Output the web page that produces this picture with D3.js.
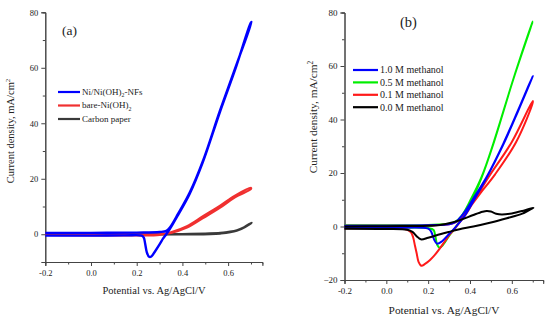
<!DOCTYPE html>
<html><head><meta charset="utf-8">
<script src="https://cdn.jsdelivr.net/npm/d3@7"></script>
<style>
html,body{margin:0;padding:0;background:#fff;}
svg{display:block;}
text{font-family:"Liberation Serif","Times New Roman",serif;fill:#222;}
</style></head>
<body>
<svg id="chart" width="550" height="321"></svg>
<script>
// ---------- data ----------
const xTicks = [-0.2, 0.0, 0.2, 0.4, 0.6];
const xTickLabels = ["-0.2", "0.0", "0.2", "0.4", "0.6"];
const xMinor = [-0.1, 0.1, 0.3, 0.5, 0.7];
const yTicksA = [0, 20, 40, 60, 80];
const yMinorA = [-10, 10, 30, 50, 70];
const yTicksB = [-20, 0, 20, 40, 60, 80];
const yMinorB = [-10, 10, 30, 50, 70];

const seriesNamesA = ["Ni/Ni(OH)2-NFs", "bare-Ni(OH)2", "Carbon paper"];
const seriesNamesB = ["1.0 M methanol", "0.5 M methanol", "0.1 M methanol", "0.0 M methanol"];

// Panel (a): [potential V, current density mA/cm2], forward then reverse scan
const aNiNFs = [[-0.2,0.5],[0.0,0.5],[0.2,0.6],[0.3,0.8],[0.33,1.2],[0.346,2.5],[0.382,7.5],[0.433,15.2],[0.491,26.7],[0.565,44.7],[0.638,61.5],[0.703,76.5],
  [0.698,76],[0.636,60.6],[0.563,43.8],[0.489,25.9],[0.431,14.4],[0.38,6.8],[0.346,2],[0.331,0.2],[0.315,-1.6],[0.302,-3.4],[0.28,-6.2],[0.264,-8.0],[0.254,-8.1],[0.244,-6.4],[0.237,-3.4],[0.231,-1.2],[0.222,-0.5],[0.15,-0.4],[0.0,-0.5],[-0.2,-0.5]];
const aBareNi = [[-0.2,0.2],[0.2,0.0],[0.3,0.0],[0.35,0.5],[0.42,2.4],[0.49,5.8],[0.565,9.6],[0.63,13.3],[0.7,16.3],
  [0.7,16.7],[0.63,13.9],[0.565,10.3],[0.49,6.5],[0.42,2.9],[0.35,0.7],[0.3,-0.2],[0.2,-0.4],[-0.2,-0.2]];
const aCarbon = [[-0.2,0.0],[0.3,0.0],[0.4,0.1],[0.5,0.3],[0.565,0.5],[0.6,0.9],[0.638,1.5],[0.67,2.6],[0.703,4.2],
  [0.7,3.9],[0.638,1.2],[0.565,0.2],[0.4,-0.1],[-0.2,-0.2]];

// Panel (b)
const b10M = [[-0.2,0.3],[0.2,0.5],[0.3,0.8],[0.33,1.6],[0.37,5],[0.42,11],[0.48,18.6],[0.56,31.1],[0.63,43.5],[0.7,56.3],
  [0.698,55.8],[0.628,42.8],[0.558,30.4],[0.478,18],[0.42,10],[0.37,3.5],[0.33,-0.3],[0.3,-2.8],[0.265,-5.6],[0.242,-6.4],[0.228,-4.8],[0.215,-2],[0.2,-0.8],[0.0,-0.6],[-0.2,-0.6]];
const b05M = [[-0.2,0.5],[0.1,0.5],[0.2,0.6],[0.3,1.0],[0.33,1.8],[0.36,4],[0.4,9.5],[0.456,18.6],[0.512,31.1],[0.611,56],[0.7,76.6],
  [0.698,76.2],[0.609,55.5],[0.51,30.5],[0.454,18],[0.4,8.5],[0.35,2],[0.33,-0.5],[0.3,-3.5],[0.272,-6.8],[0.255,-7.9],[0.243,-6.8],[0.234,-3.5],[0.226,-1.3],[0.2,-0.6],[0.0,-0.6],[-0.2,-0.6]];
const b01M = [[-0.2,0.3],[0.2,0.4],[0.3,0.8],[0.33,1.5],[0.37,4.3],[0.449,12.4],[0.52,19.5],[0.62,31.5],[0.7,46.3],
  [0.7,46.9],[0.6,31.6],[0.49,18.6],[0.43,11],[0.38,4.5],[0.34,0.5],[0.32,-1.5],[0.305,-2.8],[0.28,-5.5],[0.257,-8.1],[0.23,-10.8],[0.209,-12.5],[0.185,-14],[0.168,-14.7],[0.154,-13.2],[0.145,-10],[0.137,-7.2],[0.128,-4],[0.118,-2.2],[0.1,-1.2],[0.05,-0.8],[-0.2,-0.7]];
const b00M = [[-0.2,0.0],[0.0,0.1],[0.1,0.2],[0.2,0.3],[0.257,0.6],[0.3,1.2],[0.353,2.4],[0.416,4.3],[0.46,5.5],[0.48,5.8],[0.5,5.6],[0.525,4.8],[0.552,4.5],[0.6,4.9],[0.65,5.8],[0.703,7.0],
  [0.7,6.9],[0.65,4.8],[0.576,3.1],[0.5,1.5],[0.416,0.0],[0.35,-1.0],[0.3,-2.0],[0.257,-2.9],[0.2,-4.2],[0.165,-4.8],[0.145,-3.6],[0.125,-2.0],[0.1,-1.2],[0.0,-0.9],[-0.2,-0.8]];

// ---------- drawing ----------
const svg = d3.select("#chart");

function panel(opt) {
  const g = svg.append("g");
  const x = d3.scaleLinear().domain([-0.2, 0.75]).range([opt.x0, opt.x1]);
  const y = d3.scaleLinear().domain(opt.yDomain).range([opt.y0, opt.y1]);

  // axes
  const xAxis = d3.axisBottom(x).tickValues(xTicks).tickSize(4).tickPadding(4)
    .tickFormat((d, i) => xTickLabels[i]);
  const xMin = d3.axisBottom(x).tickValues(xMinor).tickSize(2.5).tickFormat("");
  g.append("g").attr("transform", `translate(0,${opt.y0})`).call(xAxis);
  g.append("g").attr("transform", `translate(0,${opt.y0})`).call(xMin);
  const yAxis = d3.axisLeft(y).tickValues(opt.yTicks).tickSize(4).tickPadding(3)
    .tickFormat(d3.format("d"));
  const yMin = d3.axisLeft(y).tickValues(opt.yMinor).tickSize(2.5).tickFormat("");
  g.append("g").attr("transform", `translate(${opt.x0},0)`).call(yAxis);
  g.append("g").attr("transform", `translate(${opt.x0},0)`).call(yMin);
  g.selectAll(".domain").attr("stroke", "#444");
  g.selectAll(".tick line").attr("stroke", "#444");
  g.selectAll(".tick text").style("font-family", "Liberation Serif").style("font-size", opt.tickFont + "px").attr("fill", "#222");

  // curves
  const line = d3.line().x(d => x(d[0])).y(d => y(d[1])).curve(d3.curveCatmullRom.alpha(0.5));
  opt.series.forEach(s => {
    g.append("path").attr("d", line(s.data)).attr("fill", "none")
      .attr("stroke", s.color).attr("stroke-width", s.w).attr("stroke-linejoin", "round");
  });

  // axis titles
  g.append("text").attr("x", opt.xLabelX).attr("y", opt.xLabelY).attr("text-anchor", "middle")
    .style("font-size", opt.labelFont + "px").text("Potential vs. Ag/AgCl/V");
  const yl = g.append("text").attr("transform", `translate(${opt.yLabelX},${opt.yLabelY}) rotate(-90)`)
    .attr("text-anchor", "middle").style("font-size", opt.labelFont + "px");
  yl.append("tspan").text("Current density, mA/cm");
  yl.append("tspan").attr("dy", -opt.labelFont * 0.35).style("font-size", (opt.labelFont * 0.65) + "px").text("2");

  // panel letter
  g.append("text").attr("x", opt.letterX).attr("y", opt.letterY).style("font-size", opt.letterFont + "px").text(opt.letter);

  // legend
  opt.legend.forEach((L, i) => {
    const ly = opt.legY + i * opt.legStep;
    g.append("line").attr("x1", opt.legX0).attr("x2", opt.legX1).attr("y1", ly).attr("y2", ly)
      .attr("stroke", L.color).attr("stroke-width", 2.2);
    const t = g.append("text").attr("x", opt.legX1 + 2).attr("y", ly + opt.legFont * 0.33)
      .style("font-size", opt.legFont + "px");
    const m = L.name.match(/^(.*\))2(.*)$/);
    if (m) {
      t.append("tspan").text(m[1]);
      t.append("tspan").attr("dy", opt.legFont * 0.25).style("font-size", (opt.legFont * 0.65) + "px").text("2");
      if (m[2]) t.append("tspan").attr("dy", -opt.legFont * 0.25).text(m[2]);
    } else t.text(L.name);
  });
}

panel({
  x0: 45.3, x1: 262.4, y0: 262, y1: 12.3, yDomain: [-10, 80],
  yTicks: yTicksA, yMinor: yMinorA, tickFont: 8.5, labelFont: 10.5,
  xLabelX: 154, xLabelY: 293.5, yLabelX: 14, yLabelY: 131,
  letter: "(a)", letterX: 62, letterY: 34.5, letterFont: 13.5,
  series: [
    {data: aCarbon, color: "#3a3a3a", w: 2},
    {data: aBareNi, color: "#f03030", w: 2.2},
    {data: aNiNFs, color: "#0000ff", w: 2.4}
  ],
  legend: [
    {name: seriesNamesA[0], color: "#0000ff"},
    {name: seriesNamesA[1], color: "#f03030"},
    {name: seriesNamesA[2], color: "#3a3a3a"}
  ],
  legX0: 58, legX1: 80, legY: 92, legStep: 13.5, legFont: 9
});

panel({
  x0: 344.5, x1: 543.2, y0: 280, y1: 12.5, yDomain: [-20, 80],
  yTicks: yTicksB, yMinor: yMinorB, tickFont: 9, labelFont: 11.3,
  xLabelX: 444, xLabelY: 313.5, yLabelX: 317, yLabelY: 117,
  letter: "(b)", letterX: 400, letterY: 27, letterFont: 14.5,
  series: [
    {data: b05M, color: "#00ee00", w: 2},
    {data: b01M, color: "#ff1a1a", w: 2},
    {data: b10M, color: "#0000ff", w: 2},
    {data: b00M, color: "#000000", w: 2}
  ],
  legend: [
    {name: seriesNamesB[0], color: "#0000ff"},
    {name: seriesNamesB[1], color: "#00ee00"},
    {name: seriesNamesB[2], color: "#ff1a1a"},
    {name: seriesNamesB[3], color: "#000000"}
  ],
  legX0: 353, legX1: 378, legY: 70, legStep: 12.4, legFont: 10
});
</script>
</body></html>
